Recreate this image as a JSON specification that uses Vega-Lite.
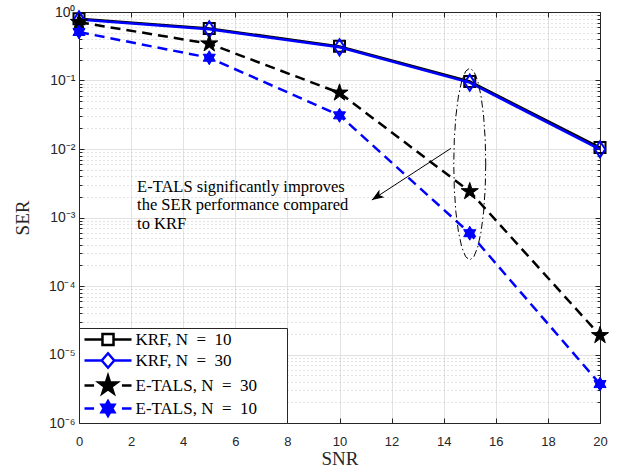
{
  "$schema": "https://vega.github.io/schema/vega-lite/v6.json",
  "width": 521,
  "height": 411,
  "autosize": {"type": "none"},
  "padding": {"left": 79, "top": 12, "right": 21, "bottom": 53},
  "background": "white",
  "config": {
    "view": {"stroke": null},
    "axis": {
      "domainColor": "#262626",
      "domainWidth": 1,
      "tickColor": "#262626",
      "tickWidth": 1,
      "labelColor": "#262626",
      "titleColor": "#262626",
      "labelFont": "Liberation Sans",
      "labelFontSize": 13,
      "titleFont": "Liberation Serif",
      "titleFontSize": 19,
      "titleFontWeight": "normal",
      "gridColor": "#e2e2e2",
      "gridWidth": 1
    },
    "legend": {
      "orient": "bottom-left",
      "offset": 0,
      "strokeColor": "#262626",
      "fillColor": "white",
      "padding": 2,
      "rowPadding": -3,
      "symbolSize": 256,
      "symbolOffset": 17.5,
      "symbolStrokeWidth": 2.5,
      "symbolOpacity": 1,
      "labelFont": "Liberation Serif",
      "labelFontSize": 17,
      "labelColor": "black",
      "labelOffset": 18,
      "labelLimit": 300
    }
  },
  "datasets": {
    "ser": [
      {"snr": 0, "ser": 0.80, "series": "KRF, N = 10"},
      {"snr": 5, "ser": 0.575, "series": "KRF, N = 10"},
      {"snr": 10, "ser": 0.315, "series": "KRF, N = 10"},
      {"snr": 15, "ser": 0.097, "series": "KRF, N = 10"},
      {"snr": 20, "ser": 0.0105, "series": "KRF, N = 10"},
      {"snr": 0, "ser": 0.78, "series": "KRF, N = 30"},
      {"snr": 5, "ser": 0.56, "series": "KRF, N = 30"},
      {"snr": 10, "ser": 0.305, "series": "KRF, N = 30"},
      {"snr": 15, "ser": 0.093, "series": "KRF, N = 30"},
      {"snr": 20, "ser": 0.0099, "series": "KRF, N = 30"},
      {"snr": 0, "ser": 0.71, "series": "E-TALS, N = 30"},
      {"snr": 5, "ser": 0.345, "series": "E-TALS, N = 30"},
      {"snr": 10, "ser": 0.066, "series": "E-TALS, N = 30"},
      {"snr": 15, "ser": 0.0024, "series": "E-TALS, N = 30"},
      {"snr": 20, "ser": 0.000019, "series": "E-TALS, N = 30"},
      {"snr": 0, "ser": 0.51, "series": "E-TALS, N = 10"},
      {"snr": 5, "ser": 0.215, "series": "E-TALS, N = 10"},
      {"snr": 10, "ser": 0.031, "series": "E-TALS, N = 10"},
      {"snr": 15, "ser": 0.00059, "series": "E-TALS, N = 10"},
      {"snr": 20, "ser": 0.0000037, "series": "E-TALS, N = 10"}
    ],
    "ellipse": [
      {"i": 0, "ex": 15.614, "ey": 0.00604},
      {"i": 1, "ex": 15.593, "ey": 0.00262},
      {"i": 2, "ex": 15.532, "ey": 0.00120},
      {"i": 3, "ex": 15.434, "ey": 0.000617},
      {"i": 4, "ex": 15.307, "ey": 0.000370},
      {"i": 5, "ex": 15.159, "ey": 0.000268},
      {"i": 6, "ex": 15.0, "ey": 0.000240},
      {"i": 7, "ex": 14.841, "ey": 0.000268},
      {"i": 8, "ex": 14.693, "ey": 0.000370},
      {"i": 9, "ex": 14.566, "ey": 0.000617},
      {"i": 10, "ex": 14.468, "ey": 0.00120},
      {"i": 11, "ex": 14.407, "ey": 0.00262},
      {"i": 12, "ex": 14.386, "ey": 0.00604},
      {"i": 13, "ex": 14.407, "ey": 0.0139},
      {"i": 14, "ex": 14.468, "ey": 0.0303},
      {"i": 15, "ex": 14.566, "ey": 0.0592},
      {"i": 16, "ex": 14.693, "ey": 0.0986},
      {"i": 17, "ex": 14.841, "ey": 0.136},
      {"i": 18, "ex": 15.0, "ey": 0.152},
      {"i": 19, "ex": 15.159, "ey": 0.136},
      {"i": 20, "ex": 15.307, "ey": 0.0986},
      {"i": 21, "ex": 15.434, "ey": 0.0592},
      {"i": 22, "ex": 15.532, "ey": 0.0303},
      {"i": 23, "ex": 15.593, "ey": 0.0139},
      {"i": 24, "ex": 15.614, "ey": 0.00604}
    ],
    "arrow": [
      {"x1": 14.28, "y1": 0.01023, "x2": 11.24, "y2": 0.0018}
    ],
    "notes": [
      {"tx": 2.23, "ty": 0.00238, "label": "E-TALS significantly improves"},
      {"tx": 2.23, "ty": 0.00129, "label": "the SER performance compared"},
      {"tx": 2.23, "ty": 0.000687, "label": "to KRF"}
    ]
  },
  "resolve": {"axis": {"x": "independent", "y": "independent"}},
  "layer": [
    {
      "data": {"name": "ser"},
      "transform": [{"filter": "datum.series === 'KRF, N = 10'"}],
      "mark": {"type": "line", "color": "black", "strokeWidth": 2.5},
      "encoding": {
        "x": {"field": "snr", "type": "quantitative",
          "scale": {"domain": [0, 20], "nice": false},
          "axis": {"orient": "bottom", "values": [0, 2, 4, 6, 8, 10, 12, 14, 16, 18, 20], "grid": true, "tickSize": -5, "labelPadding": 17, "title": "SNR", "titlePadding": 1, "labelFlush": false}},
        "y": {"field": "ser", "type": "quantitative",
          "scale": {"type": "log", "domain": [0.000001, 1], "nice": false},
          "axis": {
            "orient": "left",
            "title": "SER",
            "titlePadding": 16,
            "values": [0.000001, 0.000002, 0.000003, 0.000004, 0.000005, 0.000006, 0.000007, 0.000008, 0.000009,
                       0.00001, 0.00002, 0.00003, 0.00004, 0.00005, 0.00006, 0.00007, 0.00008, 0.00009,
                       0.0001, 0.0002, 0.0003, 0.0004, 0.0005, 0.0006, 0.0007, 0.0008, 0.0009,
                       0.001, 0.002, 0.003, 0.004, 0.005, 0.006, 0.007, 0.008, 0.009,
                       0.01, 0.02, 0.03, 0.04, 0.05, 0.06, 0.07, 0.08, 0.09,
                       0.1, 0.2, 0.3, 0.4, 0.5, 0.6, 0.7, 0.8, 0.9, 1],
            "labelOverlap": false,
            "labelFlush": false,
            "labelFontSize": 14,
            "labelPadding": 9,
            "labelExpr": "abs(log(datum.value)/LN10 - round(log(datum.value)/LN10)) < 0.001 ? '10' + (round(log(datum.value)/LN10) < 0 ? '⁻' : '') + ['⁰','¹','²','³','⁴','⁵','⁶'][abs(round(log(datum.value)/LN10))] : ''",
            "grid": true,
            "gridDash": {"condition": {"test": "abs(log(datum.value)/LN10 - round(log(datum.value)/LN10)) < 0.001", "value": []}, "value": [1, 3]},
            "gridColor": {"condition": {"test": "abs(log(datum.value)/LN10 - round(log(datum.value)/LN10)) < 0.001", "value": "#e2e2e2"}, "value": "#c8c8c8"},
            "tickSize": {"condition": {"test": "abs(log(datum.value)/LN10 - round(log(datum.value)/LN10)) < 0.001", "value": -5}, "value": -3}
          }}
      }
    },
    {
      "data": {"name": "ser"},
      "transform": [{"filter": "datum.series === 'KRF, N = 10'"}],
      "mark": {"type": "point", "shape": "square", "filled": false, "color": "black", "strokeWidth": 2, "size": 121, "opacity": 1},
      "encoding": {
        "x": {"field": "snr", "type": "quantitative",
          "axis": {"orient": "top", "values": [0, 2, 4, 6, 8, 10, 12, 14, 16, 18, 20], "grid": false, "labels": false, "tickSize": -5, "title": null}},
        "y": {"field": "ser", "type": "quantitative",
          "axis": {
            "orient": "right",
            "title": null,
            "labels": false,
            "grid": false,
            "values": [0.000001, 0.000002, 0.000003, 0.000004, 0.000005, 0.000006, 0.000007, 0.000008, 0.000009,
                       0.00001, 0.00002, 0.00003, 0.00004, 0.00005, 0.00006, 0.00007, 0.00008, 0.00009,
                       0.0001, 0.0002, 0.0003, 0.0004, 0.0005, 0.0006, 0.0007, 0.0008, 0.0009,
                       0.001, 0.002, 0.003, 0.004, 0.005, 0.006, 0.007, 0.008, 0.009,
                       0.01, 0.02, 0.03, 0.04, 0.05, 0.06, 0.07, 0.08, 0.09,
                       0.1, 0.2, 0.3, 0.4, 0.5, 0.6, 0.7, 0.8, 0.9, 1],
            "tickSize": {"condition": {"test": "abs(log(datum.value)/LN10 - round(log(datum.value)/LN10)) < 0.001", "value": -5}, "value": -3}
          }}
      }
    },
    {
      "data": {"name": "ser"},
      "transform": [{"filter": "datum.series === 'KRF, N = 30'"}],
      "mark": {"type": "line", "color": "#0000ff", "strokeWidth": 2.5},
      "encoding": {
        "x": {"field": "snr", "type": "quantitative", "axis": null},
        "y": {"field": "ser", "type": "quantitative", "axis": null}
      }
    },
    {
      "data": {"name": "ser"},
      "transform": [{"filter": "datum.series === 'KRF, N = 30'"}],
      "mark": {"type": "point", "shape": "M0,-1L0.65,0L0,1L-0.65,0Z", "filled": false, "color": "#0000ff", "strokeWidth": 2, "size": 256, "opacity": 1},
      "encoding": {
        "x": {"field": "snr", "type": "quantitative", "axis": null},
        "y": {"field": "ser", "type": "quantitative", "axis": null}
      }
    },
    {
      "data": {"name": "ser"},
      "transform": [{"filter": "datum.series === 'E-TALS, N = 30'"}],
      "mark": {"type": "line", "color": "black", "strokeWidth": 2.5, "strokeDash": [10, 6]},
      "encoding": {
        "x": {"field": "snr", "type": "quantitative", "axis": null},
        "y": {"field": "ser", "type": "quantitative", "axis": null}
      }
    },
    {
      "data": {"name": "ser"},
      "transform": [{"filter": "datum.series === 'E-TALS, N = 30'"}],
      "mark": {"type": "point", "shape": "M0,-1L0.225,-0.309L0.951,-0.309L0.363,0.118L0.588,0.809L0,0.382L-0.588,0.809L-0.363,0.118L-0.951,-0.309L-0.225,-0.309Z", "filled": true, "color": "black", "stroke": "black", "strokeWidth": 1, "size": 324, "opacity": 1},
      "encoding": {
        "x": {"field": "snr", "type": "quantitative", "axis": null},
        "y": {"field": "ser", "type": "quantitative", "axis": null}
      }
    },
    {
      "data": {"name": "ser"},
      "transform": [{"filter": "datum.series === 'E-TALS, N = 10'"}],
      "mark": {"type": "line", "color": "#0000ff", "strokeWidth": 2.5, "strokeDash": [10, 6]},
      "encoding": {
        "x": {"field": "snr", "type": "quantitative", "axis": null},
        "y": {"field": "ser", "type": "quantitative", "axis": null}
      }
    },
    {
      "data": {"name": "ser"},
      "transform": [{"filter": "datum.series === 'E-TALS, N = 10'"}],
      "mark": {"type": "point", "shape": "M0,-1L0.866,0.5L-0.866,0.5Z M0,1L-0.866,-0.5L0.866,-0.5Z", "filled": true, "color": "#0000ff", "stroke": "#0000ff", "strokeWidth": 1, "size": 196, "opacity": 1},
      "encoding": {
        "x": {"field": "snr", "type": "quantitative", "axis": null},
        "y": {"field": "ser", "type": "quantitative", "axis": null}
      }
    },
    {
      "data": {"name": "ellipse"},
      "mark": {"type": "line", "color": "black", "strokeWidth": 1, "strokeDash": [7, 3, 1.5, 3]},
      "encoding": {
        "x": {"field": "ex", "type": "quantitative", "axis": null},
        "y": {"field": "ey", "type": "quantitative", "axis": null},
        "order": {"field": "i", "type": "quantitative"}
      }
    },
    {
      "data": {"name": "arrow"},
      "mark": {"type": "rule", "color": "black", "strokeWidth": 1},
      "encoding": {
        "x": {"field": "x1", "type": "quantitative", "axis": null},
        "y": {"field": "y1", "type": "quantitative", "axis": null},
        "x2": {"field": "x2"},
        "y2": {"field": "y2"}
      }
    },
    {
      "data": {"name": "arrow"},
      "mark": {"type": "point", "shape": "M0,0L0.5,1.35L0,1L-0.5,1.35Z", "filled": true, "color": "black", "size": 324, "angle": 236.9, "opacity": 1},
      "encoding": {
        "x": {"field": "x2", "type": "quantitative", "axis": null},
        "y": {"field": "y2", "type": "quantitative", "axis": null}
      }
    },
    {
      "data": {"name": "notes"},
      "mark": {"type": "text", "align": "left", "baseline": "alphabetic", "font": "Liberation Serif", "fontSize": 16.5, "color": "black"},
      "encoding": {
        "x": {"field": "tx", "type": "quantitative", "axis": null},
        "y": {"field": "ty", "type": "quantitative", "axis": null},
        "text": {"field": "label"}
      }
    },
    {
      "data": {"name": "ser"},
      "transform": [{"filter": "datum.snr === 0"}],
      "mark": {"type": "point", "filled": true, "opacity": 0, "strokeWidth": 2.5},
      "encoding": {
        "x": {"field": "snr", "type": "quantitative", "axis": null},
        "y": {"field": "ser", "type": "quantitative", "axis": null},
        "shape": {"field": "series", "type": "nominal", "title": null,
          "legend": {"labelExpr": "replace(datum.label, ' = ', '\u2002=\u2002')"},
          "scale": {"domain": ["KRF, N = 10", "KRF, N = 30", "E-TALS, N = 30", "E-TALS, N = 10"],
            "range": [
              "M-2.94,0L-0.69,0M0.69,0L2.94,0M-0.69,-0.69L0.69,-0.69L0.69,0.69L-0.69,0.69ZM21.5,0",
              "M-2.94,0L-0.78,0M0.78,0L2.94,0M0,-0.9L0.78,0L0,0.9L-0.78,0ZM21.5,0",
              "M-2.94,0L-1.74,0M1.74,0L2.94,0M0,-1.2L0.27,-0.372L1.14,-0.372L0.438,0.141L0.705,0.972L0,0.459L-0.705,0.972L-0.438,0.141L-1.14,-0.372L-0.27,-0.372ZM21.5,0",
              "M-2.94,0L-1.74,0M1.74,0L2.94,0M0,-0.93L0.804,0.465L-0.804,0.465Z M0,0.93L-0.804,-0.465L0.804,-0.465ZM21.5,0"
            ]}},
        "stroke": {"field": "series", "type": "nominal", "title": null,
          "legend": {"labelExpr": "replace(datum.label, ' = ', '\u2002=\u2002')"},
          "scale": {"domain": ["KRF, N = 10", "KRF, N = 30", "E-TALS, N = 30", "E-TALS, N = 10"],
            "range": ["#000000", "#0000ff", "#000000", "#0000ff"]}},
        "fill": {"field": "series", "type": "nominal", "title": null,
          "legend": {"labelExpr": "replace(datum.label, ' = ', '\u2002=\u2002')"},
          "scale": {"domain": ["KRF, N = 10", "KRF, N = 30", "E-TALS, N = 30", "E-TALS, N = 10"],
            "range": ["#ffffff", "#ffffff", "#000000", "#0000ff"]}}
      }
    }
  ]
}
